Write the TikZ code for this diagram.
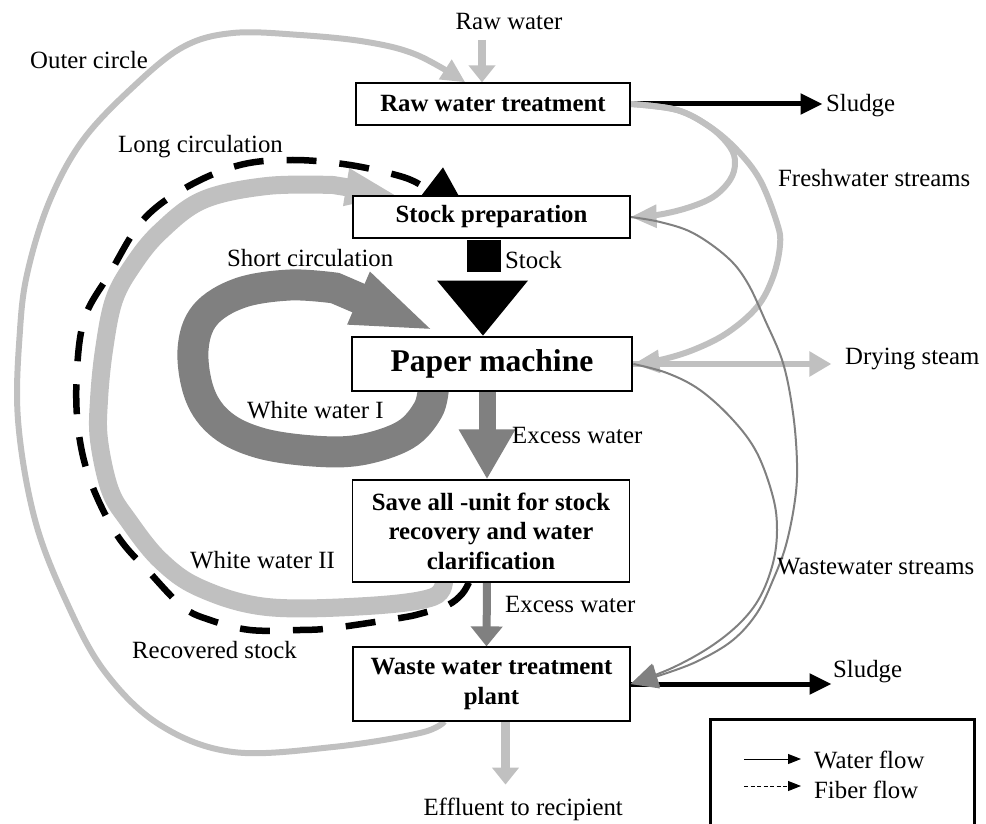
\documentclass[tikz,border=0pt]{standalone}
\usepackage{fontspec}
\setmainfont{Liberation Serif}
\usetikzlibrary{arrows.meta,calc}
\definecolor{paleflow}{HTML}{C0C0C0}
\definecolor{greyflow}{HTML}{808080}
\pgfdeclarelayer{flows}
\pgfsetlayers{flows,main}

\begin{document}
\begin{tikzpicture}[x=1pt,y=-1pt,
  lbl/.style={font=\fontsize{24.8}{29}\selectfont, inner sep=0pt,
    text height=17pt, text depth=5pt, anchor=west},
  unitbox/.style={draw, fill=white, line width=1.2pt, inner sep=0pt,
    align=center, minimum width=277pt,
    font=\fontsize{24.8}{29.5}\selectfont\bfseries},
  curve/.style={smooth, tension=0.6},
  thinflow/.style={greyflow, line width=2pt, -{Triangle[length=27pt,width=24pt]}},
  freshflow/.style={paleflow, line width=6pt, -{Triangle[length=26pt,width=22pt]}},
  sludgeflow/.style={black, line width=5pt, -{Triangle[length=22pt,width=20pt]}}
]
\useasboundingbox (0,0) rectangle (986,824);

% ---- process units ----
\node[unitbox, minimum width=274pt, minimum height=42pt] (rwt) at (493,104) {Raw water treatment};
\node[unitbox, minimum height=42pt] (sp) at (491.5,217) {Stock preparation};
\node[unitbox, line width=2.8pt, minimum width=280pt, minimum height=54pt,
  font=\fontsize{31.6}{36}\selectfont\bfseries] (pm) at (492,364) {Paper machine};
\node[unitbox, minimum height=102pt] (sa) at (491,531) {Save all -unit for stock\\recovery and water\\clarification};
\node[unitbox, minimum height=74pt] (ww) at (491.5,684) {Waste water treatment\\plant};

% ---- labels ----
\node[lbl, anchor=center] (lraw) at (509,24) {Raw water};
\node[lbl] (louter) at (30,63) {Outer circle};
\node[lbl] (llong) at (118,147) {Long circulation};
\node[lbl] (lfresh) at (778,180) {Freshwater streams};
\node[lbl] (lsludgeA) at (826,106) {Sludge};
\node[lbl] (lstock) at (505,262) {Stock};
\node[lbl] (lshort) at (227,260) {Short circulation};
\node[lbl] (ldry) at (845,358) {Drying steam};
\node[lbl] (lwwI) at (247,412) {White water I};
\node[lbl] (lexA) at (512,437) {Excess water};
\node[lbl] (lwwII) at (190,562) {White water II};
\node[lbl] (lwaste) at (777,568) {Wastewater streams};
\node[lbl] (lexB) at (505,606) {Excess water};
\node[lbl] (lrec) at (132,652) {Recovered stock};
\node[lbl] (lsludgeB) at (833,671) {Sludge};
\node[lbl, anchor=east] (leff) at (623,809) {Effluent to recipient};

% ---- legend ----
\draw[line width=3pt] (710,719) rectangle (974,845);
\coordinate (lgA) at (744,759); \coordinate (lgB) at (801,759);
\coordinate (lgC) at (744,786); \coordinate (lgD) at (801,786);
\draw[line width=1pt, -{Triangle[length=13pt,width=10pt]}] (lgA) -- (lgB);
\draw[line width=1pt, dash pattern=on 4pt off 2.5pt, -{Triangle[length=13pt,width=10pt]}] (lgC) -- (lgD);
\node[lbl] (lwater) at (814,762) {Water flow};
\node[lbl] (lfiber) at (814,792) {Fiber flow};

% ---- end points of the flows ----
\coordinate (rawtop) at (482,40);
\coordinate (oc0) at ($(ww.south west)+(92,0)$);
\coordinate (oc1) at ($(rwt.north west)+(110,0)$);
\coordinate (lb0) at ($(sa.south west)+(92,-4)$);
\coordinate (lb1) at ($(sp.north west)+(45,0)$);
\coordinate (fd0) at ($(sa.south west)+(117,0)$);
\coordinate (fd1) at ($(sp.north west)+(72,-8)$);
\coordinate (sc0) at ($(pm.south west)+(83,-6)$);
\coordinate (sc1) at ($(pm.north west)+(86,-4)$);
\coordinate (dry) at ($(pm.east)+(198,0)$);
\coordinate (slA) at ($(rwt.east)+(192,0)$);
\coordinate (slB) at ($(ww.east)+(201,0)$);
\coordinate (eff) at ($(ww.south)+(14,63)$);

\begin{pgfonlayer}{flows}
% outer circle
\draw[paleflow, line width=6pt, -{Triangle[length=24pt,width=22pt]}]
  plot[curve] coordinates {(oc0) (420,733) (333,747) (233,752) (160,725) (105,672)
  (67,603) (35,520) (18,420) (20,330) (28,270) (50,200) (83,140) (133,87) (183,47)
  (233,33) (300,35) (367,42) (417,55) (oc1)};
% long circulation: white water II
\draw[paleflow, line width=18pt, -{Triangle[length=52pt,width=34pt]}]
  plot[curve] coordinates {(lb0) (433,597) (367,606) (267,607) (200,588) (160,560)
  (128,520) (110,490) (99,440) (99,400) (104,350) (114,300) (133,265) (160,232)
  (203,200) (267,186) (333,185)} -- (lb1);
% recovered stock (fiber)
\draw[black, line width=6.5pt, dash pattern=on 30pt off 23pt]
  plot[curve] coordinates {(fd0) (462,594) (448,605) (423,613) (400,618) (333,628)
  (300,630) (250,630) (210,620) (183,607) (150,573) (117,535) (90,480) (78,427)
  (77,370) (85,317) (110,273) (143,220) (187,187) (240,165) (293,160) (350,165)
  (403,177) (fd1)};
\fill[black] ($(sp.north)+(-70,0)$) -- ($(sp.north)+(-48.5,-28)$) -- ($(sp.north)+(-33,0)$) -- cycle;
% short circulation: white water I
\draw[greyflow, line width=31pt, -{Triangle[length=85pt,width=50pt]}]
  plot[curve] coordinates {(sc0) (428,410) (405,435) (360,450) (313,451) (260,443)
  (222,425) (200,395) (193,350) (205,315) (240,293) (290,285) (335,288)} -- (sc1);
% sludge
\draw[sludgeflow] (rwt.east) -- (slA);
\draw[sludgeflow] (ww.east) -- (slB);
% freshwater streams
\draw[freshflow] plot[curve] coordinates {(rwt.east) (677,110) (710,127) (730,147)
  (735,163) (730,180) (713,197) (687,208) (657,215) (sp.east)};
\draw[freshflow] plot[curve] coordinates {(rwt.east) (677,110) (710,127) (737,150)
  (760,180) (777,223) (780,245) (773,277) (757,307) (727,333) (693,350) (660,360) (pm.east)};
% drying steam
\draw[paleflow, line width=6pt, -{Triangle[length=22pt,width=24pt]}] (pm.east) -- (dry);
% wastewater streams
\draw[thinflow] plot[curve] coordinates {(sp.east) (660,222) (693,233) (727,257)
  (747,282) (765,320) (783,363) (793,413) (797,463) (795,500) (786,545) (773,580)
  (757,613) (733,640) (700,660) (667,673) (ww.east)};
\draw[thinflow] plot[curve] coordinates {(pm.east) (667,373) (700,390) (733,420)
  (757,453) (773,497) (777,530) (773,563) (760,597) (740,623) (710,647) (672,668) (ww.east)};
% raw water, excess water, effluent
\draw[paleflow, line width=8pt, -{Triangle[length=17pt,width=26pt]}] (rawtop) -- ($(rwt.north)+(-11,0)$);
\draw[greyflow, line width=17pt, -{Triangle[length=50pt,width=53pt]}] ($(pm.south)+(-5,0)$) -- ($(sa.north)+(-4,0)$);
\draw[greyflow, line width=8pt, -{Triangle[length=20pt,width=31pt]}] ($(sa.south)+(-4,0)$) -- ($(ww.north)+(-5,0)$);
\draw[paleflow, line width=9pt, -{Triangle[length=17pt,width=26pt]}] ($(ww.south)+(14,0)$) -- (eff);
% stock
\fill[black] ($(sp.south)+(-24.5,1)$) rectangle ($(sp.south)+(9.5,33)$);
\fill[black] ($(pm.north)+(-55,-55)$) -- ($(pm.north)+(36,-55)$) -- ($(pm.north)+(-9,0)$) -- cycle;
\end{pgfonlayer}
\end{tikzpicture}
\end{document}
